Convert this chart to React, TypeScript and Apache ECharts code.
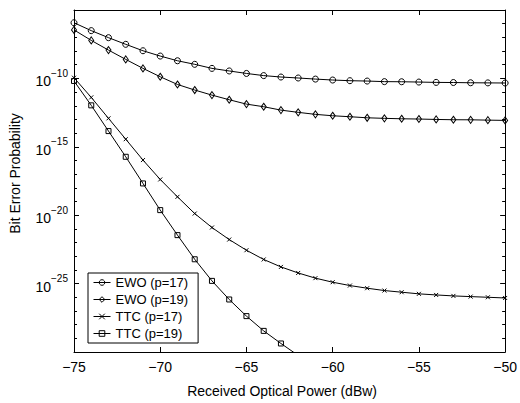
import React, { useEffect, useRef } from "react";
import * as echarts from "echarts";

// Received optical power (dBw)
const powerDbw = [-75, -74, -73, -72, -71, -70, -69, -68, -67, -66, -65, -64, -63, -62, -61, -60, -59, -58, -57, -56, -55, -54, -53, -52, -51, -50];

// Bit error probability for each scheme
const ewoP17 = [1.17e-6, 3.1e-7, 9.5e-8, 3.1e-8, 1.05e-8, 4.3e-9, 1.95e-9, 1.07e-9, 5.4e-10, 3.5e-10, 2.3e-10, 1.6e-10, 1.26e-10, 1.07e-10, 8.9e-11, 7.6e-11, 6.8e-11, 6.4e-11, 5.8e-11, 5.7e-11, 5.4e-11, 5.1e-11, 5.0e-11, 4.8e-11, 4.7e-11, 4.6e-11];
const ewoP19 = [3.5e-7, 6.0e-8, 1.17e-8, 2.45e-9, 5.4e-10, 1.32e-10, 3.6e-11, 1.41e-11, 6.0e-12, 2.75e-12, 1.32e-12, 8.5e-13, 4.8e-13, 3.3e-13, 2.35e-13, 1.86e-13, 1.58e-13, 1.32e-13, 1.2e-13, 1.12e-13, 1.07e-13, 1.0e-13, 9.5e-14, 9.4e-14, 8.9e-14, 8.5e-14];
const ttcP17 = [1.12e-10, 4.1e-12, 1.2e-13, 3.6e-15, 1.07e-16, 4.1e-18, 2.2e-19, 1.32e-20, 1.26e-21, 1.66e-22, 2.75e-23, 5.8e-24, 1.66e-24, 6.0e-25, 2.5e-25, 1.26e-25, 7.2e-26, 4.6e-26, 3.1e-26, 2.35e-26, 1.78e-26, 1.48e-26, 1.26e-26, 1.12e-26, 1.0e-26, 8.9e-27];
const ttcP19 = [6.5e-11, 1.07e-12, 1.41e-14, 1.86e-16, 2.1e-18, 2.35e-20, 3.5e-22, 6.0e-24, 1.58e-25, 6.9e-27, 4.2e-28, 3.5e-29, 4.2e-30, 5.6e-31];

const seriesNames = ["EWO (p=17)", "EWO (p=19)", "TTC (p=17)", "TTC (p=19)"];

// Axis settings
const xMin = -75;
const xMax = -50;
const xInterval = 5;
const yMinExp = -30;
const yMaxExp = -5;
const yIntervalExp = 5;

const FONT = "Liberation Sans, Arial, Helvetica, sans-serif";

function toPairs(values: number[]) {
  return values.map((v, i) => [powerDbw[i], Math.log10(v)]);
}

export default function App() {
  const ref = useRef<HTMLDivElement>(null);

  useEffect(() => {
    if (!ref.current) return;
    const chart = echarts.init(ref.current, null, { renderer: "svg" });

    const lineStyle = { color: "#000", width: 1 };
    const itemStyle = { color: "rgba(255,255,255,0)", borderColor: "#000", borderWidth: 1 };

    const mkSeries = (name: string, data: number[], symbol: string, symbolSize: any) => ({
      name,
      type: "line",
      data: toPairs(data),
      symbol,
      symbolSize,
      showAllSymbol: true,
      lineStyle,
      itemStyle,
      clip: true,
      emphasis: { disabled: true },
    });

    const axisCommon = {
      axisLine: { show: true, onZero: false, lineStyle: { color: "#000", width: 1 } },
      splitLine: { show: false },
    };

    const option: any = {
      animation: false,
      backgroundColor: "#fff",
      grid: { left: 74, right: 12, top: 10, bottom: 51 },
      legend: {
        orient: "vertical",
        left: 88,
        top: 273,
        data: seriesNames,
        itemWidth: 17,
        itemHeight: 7,
        itemGap: 4,
        padding: [3, 10, 3, 5],
        backgroundColor: "#fff",
        borderColor: "#000",
        borderWidth: 1,
        borderRadius: 0,
        lineStyle: { color: "#000", width: 1 },
        itemStyle: { color: "rgba(255,255,255,0)", borderColor: "#000", borderWidth: 1 },
        textStyle: { fontFamily: FONT, fontSize: 13, color: "#000" },
        inactiveColor: "#000",
        selectedMode: false,
      },
      xAxis: [
        {
          type: "value",
          position: "bottom",
          min: xMin,
          max: xMax,
          interval: xInterval,
          ...axisCommon,
          axisTick: { show: true, inside: true, length: 5, lineStyle: { color: "#000" } },
          axisLabel: {
            fontFamily: FONT,
            fontSize: 14,
            color: "#000",
            margin: 8,
            formatter: (v: number) => String(v).replace("-", "\u2212"),
          },
          name: "Received Optical Power (dBw)",
          nameLocation: "middle",
          nameGap: 32,
          nameTextStyle: { fontFamily: FONT, fontSize: 14, color: "#000", padding: [0, 15, 0, 0] },
        },
        {
          type: "value",
          position: "top",
          min: xMin,
          max: xMax,
          interval: xInterval,
          ...axisCommon,
          axisTick: { show: true, inside: true, length: 5, lineStyle: { color: "#000" } },
          axisLabel: { show: false },
        },
      ],
      yAxis: [
        {
          type: "value",
          position: "left",
          min: yMinExp,
          max: yMaxExp,
          interval: yIntervalExp,
          ...axisCommon,
          axisTick: { show: true, inside: true, length: 5, lineStyle: { color: "#000" } },
          minorTick: { show: true, splitNumber: 5, length: 3, lineStyle: { color: "#000" } },
          axisLabel: {
            margin: 6,
            formatter: (v: number) => {
              if (v === yMinExp || v === yMaxExp) return "";
              return "{b|10}{s|\u2212" + Math.abs(v) + "}";
            },
            rich: {
              b: { fontFamily: FONT, fontSize: 14, color: "#000", lineHeight: 20, verticalAlign: "bottom" },
              s: { fontFamily: FONT, fontSize: 10, color: "#000", lineHeight: 10, verticalAlign: "top" },
            },
          },
          name: "Bit Error Probability",
          nameLocation: "middle",
          nameGap: 52,
          nameTextStyle: { fontFamily: FONT, fontSize: 14, color: "#000", padding: [0, 0, 0, 15] },
        },
        {
          type: "value",
          position: "right",
          min: yMinExp,
          max: yMaxExp,
          interval: yIntervalExp,
          ...axisCommon,
          axisTick: { show: true, inside: true, length: 5, lineStyle: { color: "#000" } },
          minorTick: { show: true, splitNumber: 5, length: 3, lineStyle: { color: "#000" } },
          axisLabel: { show: false },
        },
      ],
      series: [
        mkSeries(seriesNames[0], ewoP17, "circle", 6),
        mkSeries(seriesNames[1], ewoP19, "diamond", [5, 7]),
        mkSeries(seriesNames[2], ttcP17, "path://M0,0L10,10M10,0L0,10", 4),
        mkSeries(seriesNames[3], ttcP19, "rect", 5),
      ],
    };

    chart.setOption(option);
    return () => chart.dispose();
  }, []);

  return (
    <div
      ref={ref}
      style={{ position: "fixed", left: 0, top: 0, width: 520, height: 403, background: "#fff" }}
    />
  );
}
